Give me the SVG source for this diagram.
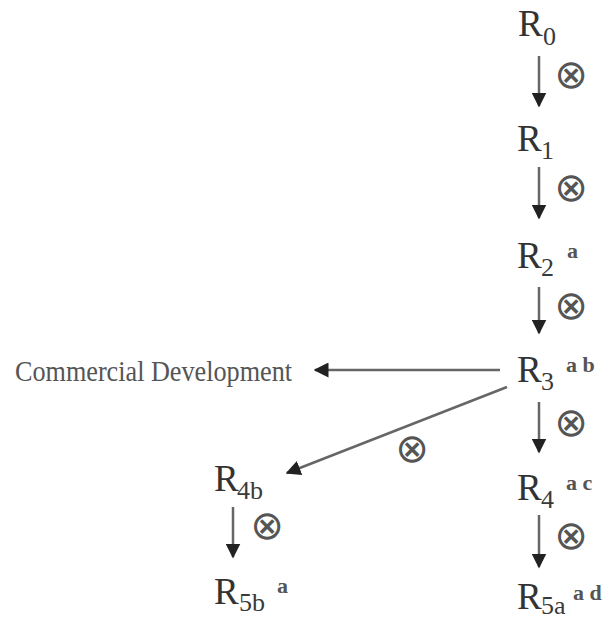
<svg xmlns="http://www.w3.org/2000/svg" width="611" height="623" viewBox="0 0 611 623">
<defs>
<marker id="ah" viewBox="0 0 10 10" refX="9" refY="5" markerWidth="6" markerHeight="6" markerUnits="strokeWidth" orient="auto">
<path d="M0,0 L10,5 L0,10 z" fill="#222"/>
</marker>
</defs>
<style>
.r{font-family:"Liberation Serif","Times New Roman",serif;font-size:37px;fill:#333}
.s{font-family:"Liberation Serif","Times New Roman",serif;font-size:26px;fill:#3a3a3a}
.p{font-family:"Liberation Serif","Times New Roman",serif;font-size:22px;font-weight:bold;fill:#555}
.o{font-family:"DejaVu Sans",sans-serif;font-size:40px;fill:#555;text-anchor:middle;dominant-baseline:central}
.l{font-family:"Liberation Serif","Times New Roman",serif;font-size:30px;fill:#555}
.c{stroke:#666;stroke-width:2.5;fill:none;marker-end:url(#ah)}
</style>
<rect width="611" height="623" fill="#fff"/>
<g id="connectors">
<line class="c" x1="539" y1="56" x2="539" y2="106"/>
<line class="c" x1="539" y1="167" x2="539" y2="218"/>
<line class="c" x1="539" y1="287" x2="539" y2="333"/>
<line class="c" x1="539" y1="402" x2="539" y2="452"/>
<line class="c" x1="539" y1="515" x2="539" y2="567"/>
<line class="c" x1="233" y1="507" x2="233" y2="557"/>
<line class="c" x1="500" y1="370" x2="315" y2="370"/>
<line class="c" x1="507" y1="387" x2="287" y2="473"/>
<text class="o" x="571" y="74">⊗</text>
<text class="o" x="571" y="187">⊗</text>
<text class="o" x="571" y="305">⊗</text>
<text class="o" x="571" y="422">⊗</text>
<text class="o" x="571" y="535">⊗</text>
<text class="o" x="267" y="525">⊗</text>
<text class="o" x="412" y="448">⊗</text>
</g>
<g id="R0"><text class="r" x="518" y="36">R</text><text class="s" x="543" y="45">0</text></g>
<g id="R1"><text class="r" x="517" y="151">R</text><text class="s" x="541" y="159">1</text></g>
<g id="R2"><text class="r" x="517" y="268">R</text><text class="s" x="541" y="276">2</text><text class="p" x="567" y="258">a</text></g>
<g id="R3"><text class="r" x="517" y="382">R</text><text class="s" x="541" y="390">3</text><text class="p" x="566" y="372">a b</text></g>
<g id="R4"><text class="r" x="517" y="500">R</text><text class="s" x="541" y="508">4</text><text class="p" x="566" y="490">a c</text></g>
<g id="R5a"><text class="r" x="517" y="609">R</text><text class="s" x="541" y="614">5a</text><text class="p" x="573" y="600">a d</text></g>
<g id="R4b"><text class="r" x="214" y="491">R</text><text class="s" x="237" y="499">4b</text></g>
<g id="R5b"><text class="r" x="214" y="604">R</text><text class="s" x="239" y="611">5b</text><text class="p" x="277" y="593">a</text></g>
<g id="commercial"><text class="l" x="15" y="381" textLength="277" lengthAdjust="spacingAndGlyphs">Commercial Development</text></g>
</svg>
